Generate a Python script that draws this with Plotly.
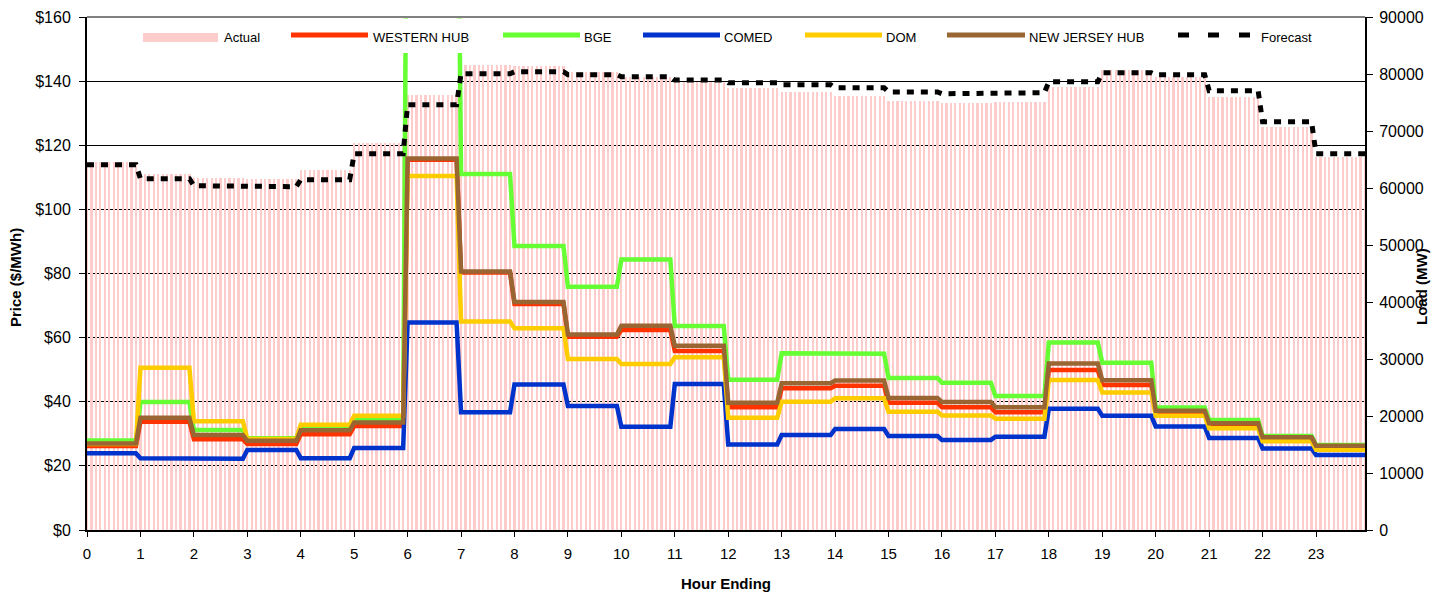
import plotly.graph_objects as go

# ---------------- data (hourly values) ----------------
hours = list(range(24))
hour_labels = [str(h) for h in hours]

actual_load = [64510, 62460, 61810, 61580, 63160, 67840, 76320, 81580, 81400, 80350,
               79470, 78600, 77600, 76900, 76190, 75320, 74960, 75090, 77720, 80700,
               79530, 75970, 70760, 65390]
forecast_load = [64090, 61630, 60400, 60230, 61460, 66020, 74620, 80050, 80400, 79880,
                 79530, 78950, 78480, 78120, 77600, 76840, 76540, 76720, 78650, 80230,
                 79880, 77070, 71630, 66020]

western_hub = [26.2, 33.8, 28.3, 26.8, 29.9, 32.4, 115.5, 80.3, 70.5, 60.3, 62.4, 55.8,
               38.3, 44.2, 45.0, 39.7, 38.3, 36.7, 49.9, 45.2, 36.5, 32.5, 28.2, 25.6]
bge = [27.9, 39.9, 31.2, 28.6, 32.2, 34.7, 250.0, 111.0, 88.6, 75.9, 84.4, 63.6,
       46.9, 55.1, 55.0, 47.4, 45.9, 41.8, 58.5, 52.2, 38.2, 34.3, 29.3, 26.5]
comed = [23.9, 22.4, 22.2, 24.95, 22.4, 25.6, 64.7, 36.7, 45.4, 38.7, 32.2, 45.5,
         26.7, 29.6, 31.5, 29.3, 28.1, 29.1, 37.8, 35.6, 32.3, 28.7, 25.4, 23.4]
dom = [26.8, 50.6, 33.9, 28.4, 32.8, 35.6, 110.4, 65.0, 62.9, 53.3, 51.8, 53.9,
       35.0, 40.0, 41.1, 36.9, 35.7, 34.7, 46.8, 42.9, 35.6, 31.7, 27.7, 25.0]
nj_hub = [27.0, 35.0, 29.6, 27.8, 31.1, 33.5, 115.9, 80.6, 71.1, 61.0, 63.7, 57.5,
          39.7, 45.8, 46.6, 41.2, 39.9, 38.3, 51.9, 46.7, 37.2, 33.3, 28.9, 26.3]

INTERVALS_PER_HOUR = 12  # 5-minute intervals


def expand(hourly):
    """Hold each hourly reading over its twelve 5-minute intervals."""
    return [v for v in hourly for _ in range(INTERVALS_PER_HOUR)]


x5 = [i / INTERVALS_PER_HOUR for i in range(24 * INTERVALS_PER_HOUR)]

FONT = "Arial, Liberation Sans, sans-serif"

fig = go.Figure()

fig.add_trace(go.Bar(x=x5, y=expand(actual_load), yaxis="y", name="Actual",
                     marker=dict(color="#FFCCCC", line=dict(width=0)),
                     width=0.5 / INTERVALS_PER_HOUR, showlegend=False))

price_series = [
    ("WESTERN HUB", western_hub, "#FF3300"),
    ("BGE", bge, "#66FF33"),
    ("COMED", comed, "#0033CC"),
    ("DOM", dom, "#FFCC00"),
    ("NEW JERSEY HUB", nj_hub, "#996633"),
]
for name, vals, col in price_series:
    fig.add_trace(go.Scatter(x=x5, y=expand(vals), yaxis="y2", mode="lines", name=name,
                             line=dict(color=col, width=4.5), showlegend=False))

fig.add_trace(go.Scatter(x=x5, y=expand(forecast_load), yaxis="y3", mode="lines",
                         name="Forecast", line=dict(color="black", width=5, dash="7px,7px"),
                         showlegend=False))

# ---------------- layout ----------------
L, R, T, B = 87, 1365, 17, 530
W, H = 1442, 595


def px(xp):
    return (xp - L) / (R - L)


def py(yp):
    return (B - yp) / (B - T)


fig.update_layout(
    width=W, height=H,
    margin=dict(l=L, r=W - R, t=T, b=H - B, pad=0),
    paper_bgcolor="white", plot_bgcolor="white",
    font=dict(family=FONT, size=15, color="black"),
    bargap=0,
    xaxis=dict(range=[0, 287 / INTERVALS_PER_HOUR], tickmode="array", tickvals=hours,
               ticktext=hour_labels, ticks="outside", ticklen=5, tickcolor="black",
               showline=True, linecolor="black", linewidth=2, showgrid=False,
               zeroline=False, automargin=False, tickfont=dict(size=15),
               ticklabelstandoff=4),
    yaxis=dict(range=[0, 90000], dtick=10000, side="right", tickformat="d",
               ticks="outside", ticklen=6, tickcolor="black", showline=True,
               linecolor="black", linewidth=2, showgrid=False, zeroline=False,
               automargin=False, tickfont=dict(size=16), ticklabelstandoff=3),
    yaxis2=dict(range=[0, 160], dtick=20, overlaying="y", side="left", tickprefix="$",
                ticks="outside", ticklen=6, tickcolor="black", showline=True,
                linecolor="black", linewidth=2, showgrid=True, gridcolor="black",
                gridwidth=1, zeroline=False, automargin=False, tickfont=dict(size=16),
                ticklabelstandoff=5),
    yaxis3=dict(range=[0, 90000], overlaying="y", visible=False),
)

shapes = []
# legend background (white box over the top of the plot area)
shapes.append(dict(type="rect", xref="paper", yref="paper", layer="above",
                   x0=px(88), x1=px(1363), y0=py(53), y1=py(18.5),
                   fillcolor="white", line=dict(width=0)))
# top border
shapes.append(dict(type="line", xref="paper", yref="paper", layer="above",
                   x0=0, x1=1, y0=1, y1=1, line=dict(color="#808080", width=2)))
# legend swatches
shapes.append(dict(type="rect", xref="paper", yref="paper", layer="above",
                   x0=px(143), x1=px(218), y0=py(42), y1=py(33),
                   fillcolor="#FFCCCC", line=dict(width=0)))
legend_lines = [(291, 368, "#FF3300"), (503, 580, "#66FF33"), (643, 720, "#0033CC"),
                (805, 882, "#FFCC00"), (947, 1025, "#996633")]
for x0, x1, col in legend_lines:
    shapes.append(dict(type="line", xref="paper", yref="paper", layer="above",
                       x0=px(x0), x1=px(x1), y0=py(35), y1=py(35),
                       line=dict(color=col, width=5)))
for x0, x1 in [(1178, 1189), (1208, 1219), (1239, 1250)]:
    shapes.append(dict(type="rect", xref="paper", yref="paper", layer="above",
                       x0=px(x0), x1=px(x1), y0=py(37.5), y1=py(32.5),
                       fillcolor="black", line=dict(width=0)))

annotations = []
legend_text = [(222, "Actual"), (371, "WESTERN HUB"), (582, "BGE"), (722, "COMED"),
               (884, "DOM"), (1027, "NEW JERSEY HUB"), (1259, "Forecast")]
for xt, txt in legend_text:
    annotations.append(dict(xref="paper", yref="paper", x=px(xt), y=py(37.5), text=txt,
                            showarrow=False, xanchor="left", yanchor="middle",
                            font=dict(family=FONT, size=13, color="black")))
annotations.append(dict(xref="paper", yref="paper", x=px(15), y=py(278),
                        text="<b>Price ($/MWh)</b>", textangle=-90, showarrow=False,
                        xanchor="center", yanchor="middle",
                        font=dict(family=FONT, size=15, color="black")))
annotations.append(dict(xref="paper", yref="paper", x=px(1421), y=py(287),
                        text="<b>Load (MW)</b>", textangle=-90, showarrow=False,
                        xanchor="center", yanchor="middle",
                        font=dict(family=FONT, size=15, color="black")))
annotations.append(dict(xref="paper", yref="paper", x=px(726), y=py(584),
                        text="<b>Hour Ending</b>", showarrow=False,
                        xanchor="center", yanchor="middle",
                        font=dict(family=FONT, size=15, color="black")))

fig.update_layout(shapes=shapes, annotations=annotations)

# remove the default page margin so the figure sits at the window's top-left corner
fig.write_html("out.html",
               config={"displayModeBar": False},
               post_script="document.body.style.margin='0';"
                           "document.body.style.overflow='hidden';")
